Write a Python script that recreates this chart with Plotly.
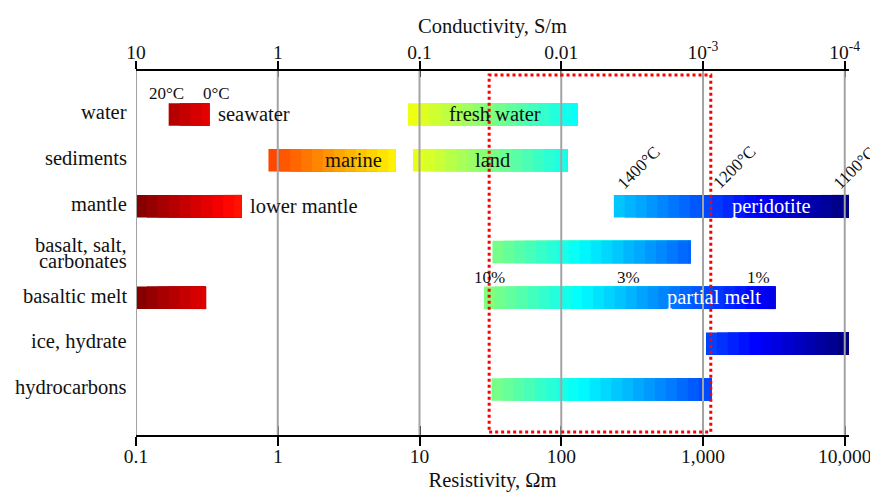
import numpy as np
import plotly.graph_objects as go

# ---------------- data ----------------
categories = ["water", "sediments", "mantle", "basalt, salt,<br>carbonates",
              "basaltic melt", "ice, hydrate", "hydrocarbons"]

bar_names = ["seawater", "fresh water", "marine", "land", "lower mantle", "peridotite",
             "basalt, salt, carbonates", "basaltic melt", "partial melt",
             "ice, hydrate", "hydrocarbons"]
bar_rows = [0, 0, 1, 1, 2, 2, 3, 4, 4, 5, 6]
bar_low = [0.17, 8.3, 0.86, 9.0, 0.1, 235, 32.7, 0.1, 28.5, 1050, 32.2]
bar_high = [0.33, 130, 6.8, 111, 0.556, 10700, 817, 0.312, 3240, 10700, 1148]
# label text shown on/next to a bar, its placement and colour
bar_label = ["seawater", "fresh water", "marine", "land", "lower mantle", "peridotite",
             "", "", "partial melt", "", ""]
bar_label_mode = ["after", "center", "inside_right", "center", "after", "inside_right",
                  "", "", "inside_right", "", ""]
bar_label_color = ["#111", "#111", "#111", "#111", "#111", "white",
                   "", "", "white", "", ""]

res_ticks = [0.1, 1, 10, 100, 1000, 10000]
res_tick_labels = ["0.1", "1", "10", "100", "1,000", "10,000"]
cond_tick_labels = ["10", "1", "0.1", "0.01", "10<sup>-3</sup>", "10<sup>-4</sup>"]

seawater_temp_labels = ["20°C", "0°C"]
seawater_temp_x = [0.163, 0.372]

mantle_temp_labels = ["1400°C", "1200°C", "1100°C"]
mantle_temp_x = [225, 1060, 7530]

melt_pct_labels = ["10%", "3%", "1%"]
melt_pct_x = [31, 296, 2455]

highlight_range = [31, 1135]

# ---------------- styling ----------------
FONT = "Liberation Serif, Times New Roman, serif"
BIG = 20.5
SMALL = 17
X_RANGE = [-1, 4.03]
BAR_W = 0.49
STEP = 1 / 13.0


def jet(t):
    t = min(max(t, 0.0), 1.0)
    if t < 0.125:
        r, g, b = 0, 0, 0.5 + 4 * t
    elif t < 0.375:
        r, g, b = 0, 4 * (t - 0.125), 1
    elif t < 0.625:
        r, g, b = 4 * (t - 0.375), 1, 1 - 4 * (t - 0.375)
    elif t < 0.875:
        r, g, b = 1, 1 - 4 * (t - 0.625), 0
    else:
        r, g, b = 1 - 4 * (t - 0.875), 0, 0
    return "rgb(%d,%d,%d)" % (round(r * 255), round(g * 255), round(b * 255))


def res_color(logr):
    return jet((4 - logr) / 5.0)


fig = go.Figure()

for lo, hi, row in zip(bar_low, bar_high, bar_rows):
    a, b = np.log10(lo), np.log10(hi)
    edges = list(np.arange(a, b, STEP))
    if b - edges[-1] < 1e-6:
        edges = edges[:-1]
    edges.append(b)
    edges = np.array(edges)
    e0, e1 = edges[:-1], edges[1:]
    cols = [res_color((p + q) / 2) for p, q in zip(e0, e1)]
    # each block runs to the bar's end; later blocks are painted over earlier ones,
    # so no seams appear between blocks
    fig.add_trace(go.Bar(
        orientation="h", y=[row] * len(e0), base=10 ** e0, x=hi - 10 ** e0,
        width=BAR_W, marker=dict(color=cols, line=dict(width=0)),
        hoverinfo="skip", showlegend=False, xaxis="x", yaxis="y"))

# invisible traces so that the overlaying axes get drawn
for ax in ["x2", "x3", "x4"]:
    fig.add_trace(go.Scatter(x=[1], y=[0], xaxis=ax, yaxis="y", mode="markers",
                             marker=dict(opacity=0), hoverinfo="skip", showlegend=False))

annotations = []
# category labels
for i, c in enumerate(categories):
    if "<br>" in c:
        parts = c.split("<br>")
        for j, p in enumerate(parts):
            annotations.append(dict(x=0, xref="paper", y=i, yref="y", text=p,
                                    xanchor="right", yanchor="middle", showarrow=False,
                                    xshift=-7, yshift=(8 - 16 * j) - 1,
                                    font=dict(family=FONT, size=BIG, color="#111")))
    else:
        annotations.append(dict(x=0, xref="paper", y=i, yref="y", text=c,
                                xanchor="right", yanchor="middle", showarrow=False,
                                xshift=-7, yshift=2,
                                font=dict(family=FONT, size=BIG, color="#111")))

# bar labels
for lab, mode, col, lo, hi, row in zip(bar_label, bar_label_mode, bar_label_color,
                                       bar_low, bar_high, bar_rows):
    if not lab:
        continue
    if mode == "after":
        annotations.append(dict(x=np.log10(hi), y=row, text=lab, xanchor="left", xshift=6,
                                showarrow=False, font=dict(family=FONT, size=BIG, color=col)))
    elif mode == "center":
        annotations.append(dict(x=(np.log10(lo) + np.log10(hi)) / 2, y=row, text=lab,
                                xanchor="center", xshift=2, showarrow=False,
                                font=dict(family=FONT, size=BIG, color=col)))
    else:
        shift = -36 if lab == "peridotite" else -12
        annotations.append(dict(x=np.log10(hi), y=row, text=lab, xanchor="right",
                                xshift=shift, showarrow=False,
                                font=dict(family=FONT, size=BIG, color=col)))

for t, xv in zip(seawater_temp_labels, seawater_temp_x):
    annotations.append(dict(x=np.log10(xv), y=0, text=t, showarrow=False, yshift=21,
                            font=dict(family=FONT, size=SMALL, color="#111")))

for t, xv in zip(mantle_temp_labels, mantle_temp_x):
    annotations.append(dict(x=np.log10(xv), y=2 - BAR_W / 2, text=t, showarrow=False,
                            textangle=-45, xanchor="left", yanchor="bottom", yshift=-1,
                            font=dict(family=FONT, size=SMALL, color="#111")))

for t, xv in zip(melt_pct_labels, melt_pct_x):
    annotations.append(dict(x=np.log10(xv), y=4, text=t, showarrow=False, yshift=20,
                            font=dict(family=FONT, size=SMALL, color="#111")))

shapes = []
for v in res_ticks:
    shapes.append(dict(type="line", xref="x", yref="paper", x0=v, x1=v, y0=0, y1=1,
                       line=dict(color="#a3a3a3", width=2), layer="above"))
shapes.append(dict(type="rect", xref="x", yref="paper", x0=highlight_range[0],
                   x1=highlight_range[1], y0=0.008, y1=0.989,
                   line=dict(color="red", width=3, dash="dot"),
                   fillcolor="rgba(0,0,0,0)", layer="above"))

tickfont = dict(family=FONT, size=19.5, color="#111")
common = dict(type="log", range=X_RANGE, tickvals=res_ticks, showgrid=False,
              zeroline=False, tickwidth=2, tickcolor="black", layer="above traces",
              automargin=False, ticklabeloverflow="allow")

fig.update_layout(
    width=870, height=492,
    margin=dict(l=136, r=21, t=71, b=57, autoexpand=False),
    paper_bgcolor="white", plot_bgcolor="white",
    barmode="overlay",
    font=dict(family=FONT, color="#111"),
    xaxis=dict(**common, ticktext=res_tick_labels, ticks="outside", ticklen=9,
               showline=True, linecolor="black", linewidth=2, tickfont=tickfont,
               ticklabelstandoff=-6,
               title=dict(text="Resistivity, Ωm", font=dict(family=FONT, size=BIG),
                          standoff=12)),
    xaxis2=dict(**common, ticktext=cond_tick_labels, ticks="outside", ticklen=8,
                overlaying="x", side="top", anchor="y", ticklabelstandoff=-6,
                showline=True, linecolor="black", linewidth=2, tickfont=tickfont,
                title=dict(text="Conductivity, S/m", font=dict(family=FONT, size=BIG),
                           standoff=0)),
    xaxis3=dict(**common, ticks="inside", ticklen=9, overlaying="x", side="bottom",
                anchor="y", showticklabels=False, showline=False),
    xaxis4=dict(**common, ticks="inside", ticklen=6, overlaying="x", side="top",
                anchor="y", showticklabels=False, showline=False),
    yaxis=dict(range=[6.993, -0.949], showticklabels=False, showgrid=False,
               zeroline=False, showline=False, ticks="", automargin=False),
    annotations=annotations,
    shapes=shapes,
)

fig.write_html("out.html", config={"displayModeBar": False},
               post_script="document.body.style.margin='0px';document.body.style.padding='0px';")
